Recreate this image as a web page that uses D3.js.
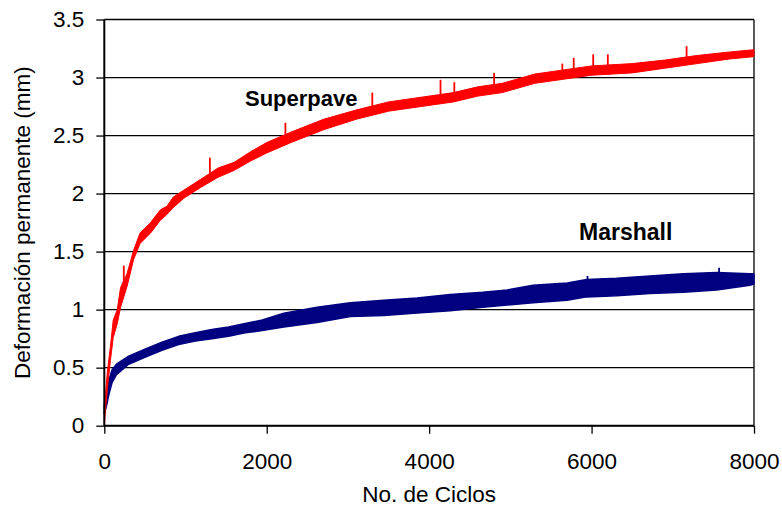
<!DOCTYPE html>
<html>
<head>
<meta charset="utf-8">
<script src="https://cdn.jsdelivr.net/npm/d3@7"></script>
<style>
  body { margin: 0; background: #fff; }
  svg text { font-family: "Liberation Sans", Arial, sans-serif; }
</style>
</head>
<body>
<div id="chart"></div>
<script>
// values (cycles, mm)
var yTicks = [0, 0.5, 1, 1.5, 2, 2.5, 3, 3.5];
var xTicks = [0, 2000, 4000, 6000, 8000];

// Superpave: lower / upper edge of the noisy band
var superpaveCycles = [0, 20, 40, 75, 110, 160, 200, 280, 360, 440, 570, 690, 770, 850, 980, 1180, 1400, 1600, 1800, 2000,
    2300, 2700, 3100, 3500, 3900, 4300, 4600, 4900, 5300, 5700, 6000, 6500, 6900, 7300, 7700, 8000];
var superpaveLow = [0.0, 0.18, 0.33, 0.56, 0.76, 0.88, 1.02, 1.20, 1.43, 1.57, 1.66, 1.77, 1.82, 1.88, 1.96, 2.05, 2.14, 2.20, 2.28, 2.35,
    2.44, 2.55, 2.64, 2.71, 2.75, 2.79, 2.84, 2.87, 2.95, 2.99, 3.02, 3.04, 3.08, 3.12, 3.16, 3.18];
var superpaveHigh = [0.1, 0.32, 0.48, 0.68, 0.91, 1.0, 1.19, 1.31, 1.51, 1.66, 1.75, 1.86, 1.89, 1.97, 2.03, 2.12, 2.22, 2.27, 2.36, 2.44,
    2.53, 2.64, 2.72, 2.79, 2.83, 2.87, 2.92, 2.95, 3.03, 3.07, 3.10, 3.12, 3.15, 3.19, 3.22, 3.24];
// isolated spikes above the band
var superpaveSpikeCycles = [240, 1300, 2230, 3300, 4140, 4310, 4800, 5640, 5780, 6020, 6200, 7170];
var superpaveSpikeMm = [1.38, 2.31, 2.61, 2.87, 2.98, 2.96, 3.04, 3.12, 3.17, 3.20, 3.20, 3.27];

// Marshall
var marshallCycles = [0, 30, 60, 95, 150, 300, 500, 710, 915, 1120, 1325, 1530, 1735, 1945, 2210, 2620, 3030, 3440, 3850,
    4260, 4660, 4960, 5280, 5700, 5940, 6310, 6720, 7130, 7540, 7950, 8000];
var marshallLow = [0.10, 0.18, 0.28, 0.37, 0.44, 0.53, 0.59, 0.65, 0.70, 0.73, 0.75, 0.77, 0.80, 0.82, 0.85, 0.89, 0.94, 0.95, 0.97,
    0.99, 1.02, 1.04, 1.06, 1.08, 1.11, 1.12, 1.14, 1.15, 1.17, 1.21, 1.22];
var marshallHigh = [0.18, 0.30, 0.40, 0.48, 0.53, 0.60, 0.66, 0.72, 0.77, 0.80, 0.83, 0.85, 0.88, 0.91, 0.97, 1.02, 1.06, 1.08, 1.10,
    1.13, 1.15, 1.17, 1.21, 1.23, 1.26, 1.27, 1.29, 1.31, 1.32, 1.31, 1.31];
var marshallSpikeCycles = [5950, 7570];
var marshallSpikeMm = [1.29, 1.36];

var width = 782, height = 506;
var margin = {top: 19.5, right: 28, bottom: 80.3, left: 104.3};

var svg = d3.select("#chart").append("svg")
    .attr("width", width)
    .attr("height", height);

var xScale = d3.scaleLinear().domain([0, 8000]).range([margin.left, width - margin.right]);
var yScale = d3.scaleLinear().domain([0, 3.5]).range([height - margin.bottom, margin.top]);

// horizontal grid lines (top one doubles as the frame)
svg.selectAll("line.grid").data(yTicks).enter()
    .append("line")
    .attr("class", "grid")
    .attr("x1", margin.left)
    .attr("x2", width - margin.right)
    .attr("y1", function(d) { return yScale(d); })
    .attr("y2", function(d) { return yScale(d); })
    .attr("stroke", "#000")
    .attr("stroke-width", 1.3);

// right frame
svg.append("line")
    .attr("x1", width - margin.right).attr("x2", width - margin.right)
    .attr("y1", margin.top).attr("y2", height - margin.bottom)
    .attr("stroke", "#000").attr("stroke-width", 1.3);

function band(cycles, low, high) {
    return cycles.map(function(c, i) { return {c: c, lo: low[i], hi: high[i]}; });
}
var area = d3.area()
    .x(function(d) { return xScale(d.c); })
    .y0(function(d) { return yScale(d.lo); })
    .y1(function(d) { return yScale(d.hi); });

function drawSeries(cycles, low, high, spikeCycles, spikeMm, color, edge) {
    var data = band(cycles, low, high);
    svg.append("path")
        .datum(data)
        .attr("d", area)
        .attr("fill", color)
        .attr("stroke", color)
        .attr("stroke-width", edge)
        .attr("stroke-linejoin", "round");
    // spikes: short vertical strokes from the band up to the peak value
    spikeCycles.forEach(function(c, i) {
        var j = Math.min(d3.bisectLeft(cycles, c), cycles.length - 1);
        svg.append("line")
            .attr("x1", xScale(c)).attr("x2", xScale(c))
            .attr("y1", yScale(low[j]))
            .attr("y2", yScale(spikeMm[i]))
            .attr("stroke", color)
            .attr("stroke-width", 1.8);
    });
}

drawSeries(marshallCycles, marshallLow, marshallHigh, marshallSpikeCycles, marshallSpikeMm, "#000080", 1.5);
drawSeries(superpaveCycles, superpaveLow, superpaveHigh, superpaveSpikeCycles, superpaveSpikeMm, "#ff0000", 1);

// axes
var yAxis = svg.append("g")
    .attr("transform", `translate(${margin.left},0)`)
    .call(d3.axisLeft(yScale).tickValues(yTicks).tickSize(8).tickPadding(12).tickFormat(function(d) { return d; }));
var xAxis = svg.append("g")
    .attr("transform", `translate(0,${height - margin.bottom})`)
    .call(d3.axisBottom(xScale).tickValues(xTicks).tickSize(8).tickPadding(19).tickFormat(function(d) { return d; }));

[yAxis, xAxis].forEach(function(g) {
    g.select(".domain").attr("stroke", "#000").attr("stroke-width", 2);
    g.selectAll(".tick line").attr("stroke", "#000").attr("stroke-width", 1.3);
    g.selectAll(".tick text").attr("fill", "#000").style("font-size", "22.5px");
});
yAxis.select(".domain").attr("d", `M0,${yScale(0)}V${yScale(3.5)}`);
xAxis.select(".domain").attr("d", `M${xScale(0)},0H${xScale(8000)}`);

// axis titles
svg.append("text")
    .attr("x", (margin.left + width - margin.right) / 2)
    .attr("y", 502)
    .attr("text-anchor", "middle")
    .style("font-size", "22.5px")
    .text("No. de Ciclos");

svg.append("text")
    .attr("transform", `translate(30,${(yScale(0) + yScale(3.5)) / 2}) rotate(-90)`)
    .attr("text-anchor", "middle")
    .style("font-size", "22.5px")
    .text("Deformación permanente (mm)");

// series labels
svg.append("text")
    .attr("x", 245).attr("y", 106)
    .style("font-size", "22px").style("font-weight", "bold")
    .text("Superpave");
svg.append("text")
    .attr("x", 579).attr("y", 240)
    .style("font-size", "23px").style("font-weight", "bold")
    .text("Marshall");
</script>
</body>
</html>
